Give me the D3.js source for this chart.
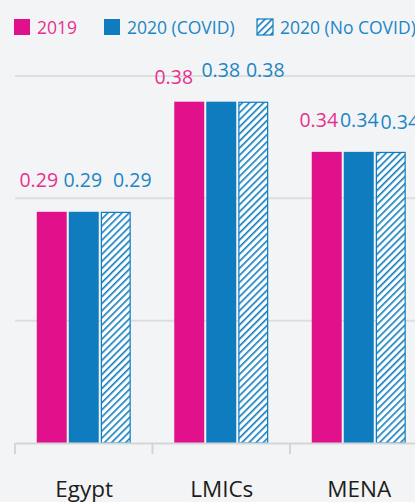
<!DOCTYPE html>
<html>
<head>
<meta charset="utf-8">
<script src="https://cdn.jsdelivr.net/npm/d3@7/dist/d3.min.js"></script>
<style>
  html, body { margin: 0; padding: 0; background: #f3f4f6; }
  svg { display: block; }
  text { font-family: "Open Sans", "Noto Sans", sans-serif; }
</style>
</head>
<body>
<svg id="chart" width="415" height="502"></svg>
<script>
const categories = ["Egypt", "LMICs", "MENA"];
const seriesNames = ["2019", "2020 (COVID)", "2020 (No COVID)"];
const values2019 = [0.289, 0.379, 0.338];
const valuesCovid = [0.289, 0.379, 0.338];
const valuesNoCovid = [0.289, 0.379, 0.338];
const yTicks = [0.1, 0.2, 0.3, 0.4];

const seriesValues = [values2019, valuesCovid, valuesNoCovid];
const pink = "#e0118a", blue = "#0e7cbf";
const textPink = "#e5318f", textBlue = "#1d86c5";

// label collision offsets (layout only): [category][series] -> [dx, dy]
const labelShift = [
  [[-13, 0], [-1, 0], [16.5, 0]],
  [[-15.5, 7], [-0.5, 0], [12, 0]],
  [[-8, 0], [0.5, 0], [9, 2]]
];

const svg = d3.select("#chart");
const defs = svg.append("defs");
const pat = defs.append("pattern").attr("id", "hatch")
  .attr("patternUnits", "userSpaceOnUse").attr("width", 5).attr("height", 5)
  .attr("patternTransform", "rotate(45)");
pat.append("rect").attr("width", 5).attr("height", 5).attr("fill", "#ffffff");
pat.append("rect").attr("x", 0).attr("width", 1.6).attr("height", 5).attr("fill", blue);

const x = d3.scaleBand().domain(categories).range([15, 427.5]).paddingInner(0).paddingOuter(0);
const y = d3.scaleLinear().domain([0.1, 0.4]).range([443, 76]);
const xs = d3.scaleBand().domain(d3.range(3)).range([0, 94]).paddingInner(0.064);

// gridlines
svg.append("g").selectAll("line").data(yTicks.filter(t => t > 0.1)).join("line")
  .attr("x1", 15).attr("x2", 415)
  .attr("y1", d => y(d)).attr("y2", d => y(d))
  .attr("stroke", "#dcdee0").attr("stroke-width", 2);

// bars
const groups = svg.append("g").selectAll("g").data(categories).join("g")
  .attr("transform", d => `translate(${x(d) + (x.bandwidth() - 94) / 2},0)`);

groups.each(function(cat, ci) {
  const g = d3.select(this);
  seriesValues.forEach((vals, si) => {
    const v = vals[ci];
    const r = g.append("rect")
      .attr("x", xs(si)).attr("width", xs.bandwidth())
      .attr("y", y(v)).attr("height", y(0.1) - y(v));
    if (si === 0) r.attr("fill", pink);
    else if (si === 1) r.attr("fill", blue);
    else r.attr("fill", "url(#hatch)").attr("stroke", blue).attr("stroke-width", 1.2)
      .attr("x", xs(si) + 0.6).attr("width", xs.bandwidth() - 1.2)
      .attr("y", y(v) + 0.6).attr("height", y(0.1) - y(v) - 0.6);
    const sh = labelShift[ci][si];
    g.append("text")
      .attr("x", xs(si) + xs.bandwidth() / 2 + sh[0])
      .attr("y", y(v) - 25 + sh[1])
      .attr("text-anchor", "middle")
      .attr("font-size", 19.5)
      .attr("fill", si === 0 ? textPink : textBlue)
      .text(d3.format(".2f")(v));
  });
});

// baseline axis
const axis = d3.axisBottom(x).tickSize(10).tickSizeOuter(0).tickFormat("");
const ax = svg.append("g").attr("transform", `translate(0,${y(0.1)})`).call(axis);
ax.select(".domain").attr("stroke", "#d3d5d7").attr("stroke-width", 2);
ax.selectAll(".tick").remove();
ax.selectAll(".bt").data(categories).join("line")
  .attr("x1", d => x(d)).attr("x2", d => x(d))
  .attr("y1", 0).attr("y2", 11)
  .attr("stroke", "#d3d5d7").attr("stroke-width", 2);

svg.append("g").selectAll("text").data(categories).join("text")
  .attr("x", d => x(d) + x.bandwidth() / 2 + 0.5)
  .attr("y", 497)
  .attr("text-anchor", "middle")
  .attr("font-size", 22.5)
  .attr("font-weight", 500)
  .attr("fill", "#1d1d1b")
  .text(d => d);

// legend
const legendX = [14, 104, 257];
const leg = svg.append("g").selectAll("g").data(seriesNames).join("g")
  .attr("transform", (d, i) => `translate(${legendX[i]},19)`);
leg.append("rect").attr("width", 16).attr("height", 16)
  .attr("fill", (d, i) => i === 0 ? pink : i === 1 ? blue : "url(#hatch)")
  .attr("stroke", (d, i) => i === 2 ? blue : "none").attr("stroke-width", 1.2);
leg.append("text").attr("x", 23).attr("y", 14.5)
  .attr("font-size", 17.5)
  .attr("fill", (d, i) => i === 0 ? textPink : textBlue)
  .text(d => d);
</script>
</body>
</html>
